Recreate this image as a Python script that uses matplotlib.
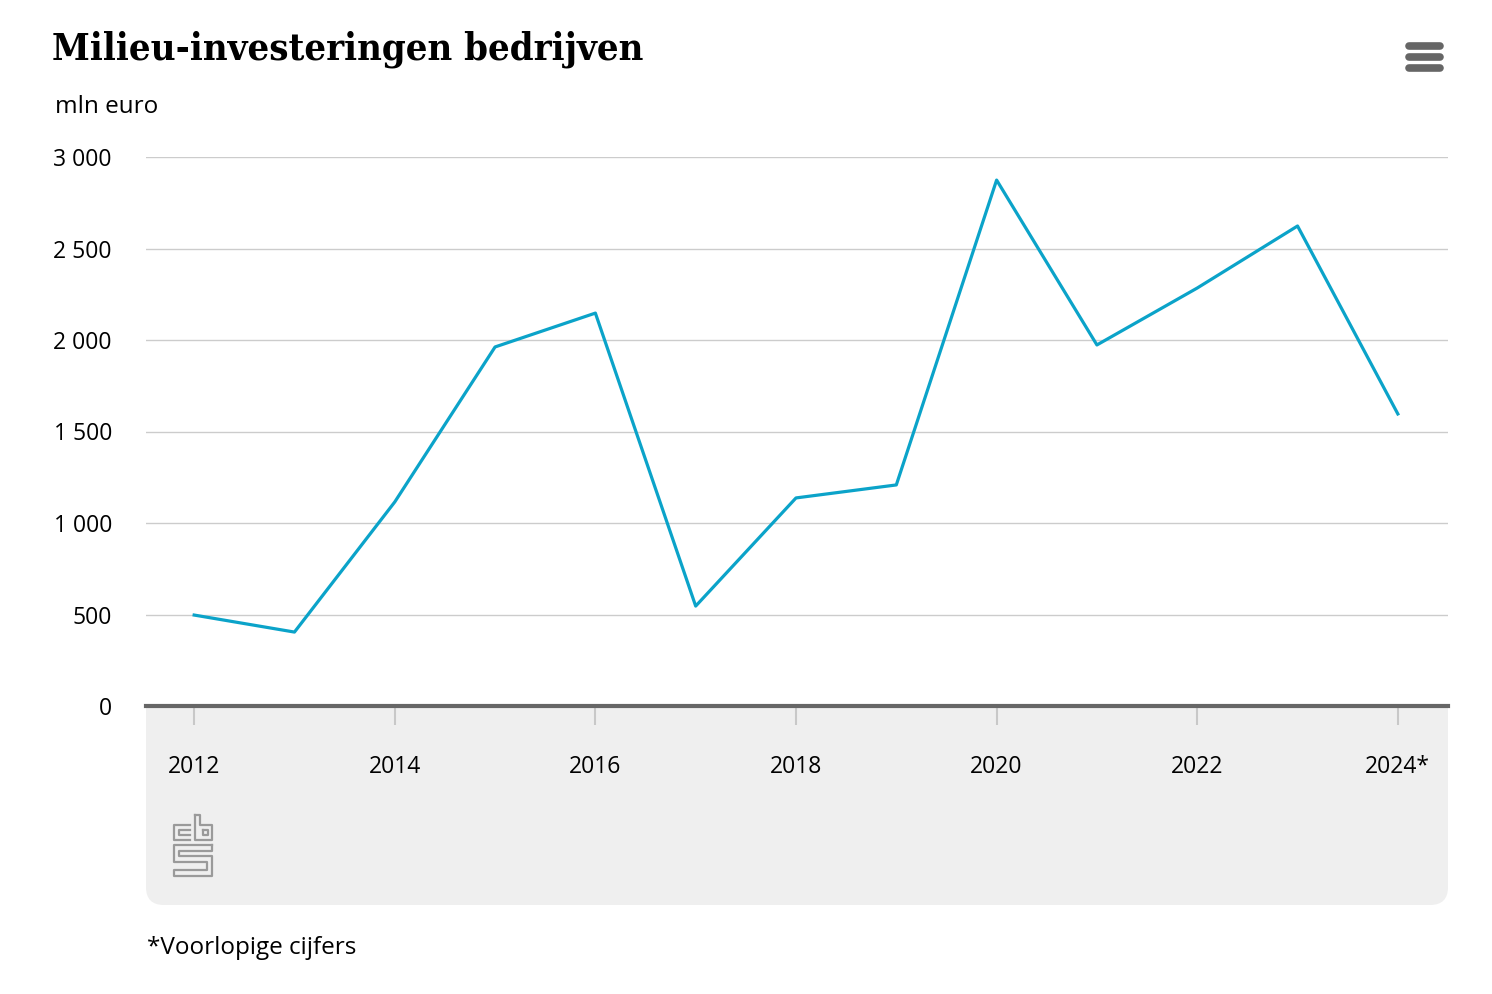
import matplotlib
matplotlib.use("Agg")
import matplotlib.pyplot as plt
from matplotlib.patches import FancyBboxPatch, Rectangle
from matplotlib.lines import Line2D

years = [2012, 2013, 2014, 2015, 2016, 2017, 2018, 2019, 2020, 2021, 2022, 2023, 2024]
values = [497, 404, 1115, 1962, 2147, 546, 1137, 1208, 2874, 1973, 2284, 2623, 1596]
tick_years = [2012, 2014, 2016, 2018, 2020, 2022, 2024]
tick_labels = ["2012", "2014", "2016", "2018", "2020", "2022", "2024*"]
y_ticks = [0, 500, 1000, 1500, 2000, 2500, 3000]
y_labels = ["0", "500", "1 000", "1 500", "2 000", "2 500", "3 000"]

W, H = 1492, 994
plt.rcParams["font.family"] = ["Open Sans", "DejaVu Sans"]

fig = plt.figure(figsize=(W / 100, H / 100), dpi=100)


def px(x, y):
    return x / W, 1 - y / H


# grey panel under the x axis
x0, y0 = px(146, 905)
x1, y1 = px(1448, 706)
panel = FancyBboxPatch((x0, y0), x1 - x0, y1 - y0, boxstyle="round,pad=0,rounding_size=0.012",
                       transform=fig.transFigure, facecolor="#efefef", edgecolor="none", zorder=-2,
                       mutation_aspect=W / H)
fig.add_artist(panel)
xa, ya = px(146, 740)
fig.add_artist(Rectangle((xa, ya), x1 - x0, y1 - ya, transform=fig.transFigure,
                         facecolor="#efefef", edgecolor="none", zorder=-2))

ax = fig.add_axes([146 / W, 1 - 706 / H, 1302 / W, 549 / H])
ax.set_facecolor("none")
ax.plot(years, values, color="#0ba3c9", linewidth=2.3, zorder=3)
ax.set_xlim(2011.52, 2024.5)
ax.set_ylim(0, 3000)

ax.set_yticks(y_ticks)
ax.set_yticklabels(y_labels)
ax.set_xticks(tick_years)
ax.set_xticklabels(tick_labels)
ax.grid(axis="y", color="#cccccc", linewidth=1)
ax.set_axisbelow(True)
for s in ["top", "right", "left"]:
    ax.spines[s].set_visible(False)
ax.spines["bottom"].set_color("#666666")
ax.spines["bottom"].set_linewidth(3)
ax.spines["bottom"].set_zorder(4)
ax.tick_params(axis="y", length=0, pad=24.5, labelsize=16.5, labelcolor="#000000")
ax.tick_params(axis="x", direction="out", length=14, width=1.5, color="#c8c8c8",
               pad=21, labelsize=16.5, labelcolor="#000000")

# title & texts
fig.text(52 / W, 1 - 49 / H, "Milieu-investeringen bedrijven", fontsize=27.4, fontweight="bold",
         family=["DejaVu Serif"], fontstretch="condensed", va="center", ha="left")
fig.text(55 / W, 1 - 107 / H, "mln euro", fontsize=17.5, va="center", ha="left")
fig.text(147 / W, 1 - 948 / H, "*Voorlopige cijfers", fontsize=17.5, va="center", ha="left")

# menu icon
for yy in [46, 57, 68]:
    fig.add_artist(Line2D([1409 / W, 1440 / W], [1 - yy / H, 1 - yy / H], transform=fig.transFigure,
                          color="#666666", linewidth=5.5, solid_capstyle="round"))

# cbs logo
logo = [
    [(190, 825), (174, 825), (174, 840), (190, 840)],
    [(190, 830), (179, 830), (179, 835), (190, 835)],
    [(195, 815), (195, 840), (212, 840), (212, 825), (200, 825), (200, 815), (195, 815)],
    [(203, 830), (208, 830), (208, 835), (203, 835), (203, 830)],
    [(212, 845), (174, 845), (174, 862), (207, 862), (207, 870), (174, 870), (174, 876),
     (212, 876), (212, 856), (179, 856), (179, 851), (212, 851), (212, 845)],
]
for seg in logo:
    xs = [p[0] / W for p in seg]
    ys = [1 - p[1] / H for p in seg]
    fig.add_artist(Line2D(xs, ys, transform=fig.transFigure, color="#9a9a9a", linewidth=1.6))

fig.savefig("out.png", dpi=100)
